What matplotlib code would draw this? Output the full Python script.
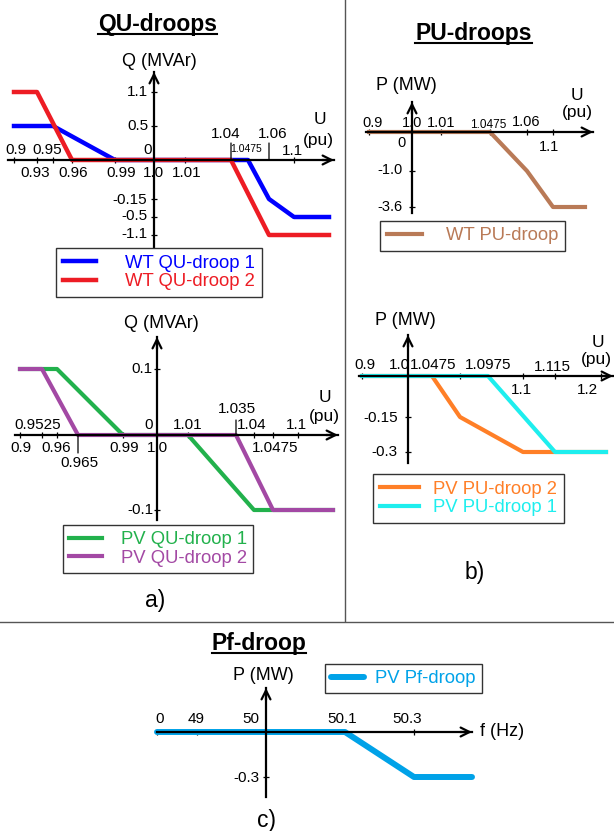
import numpy as np
import matplotlib
matplotlib.use("Agg")
import matplotlib.pyplot as plt
from matplotlib.lines import Line2D

plt.rcParams["font.family"] = ["Liberation Sans", "DejaVu Sans"]

# ---- data (droop curves) ----
wt_qu1_u = [0.9, 0.95, 0.99, 1.0475, 1.06, 1.1, 1.15]
wt_qu1_q = [0.5, 0.5, 0.0, 0.0, -0.15, -0.5, -0.5]
wt_qu2_u = [0.9, 0.93, 0.96, 1.04, 1.06, 1.15]
wt_qu2_q = [1.1, 1.1, 0.0, 0.0, -1.1, -1.1]

pv_qu1_u = [0.9, 0.96, 0.99, 1.01, 1.04, 1.15]
pv_qu1_q = [0.1, 0.1, 0.0, 0.0, -0.1, -0.1]
pv_qu2_u = [0.9, 0.9525, 0.965, 1.035, 1.0475, 1.15]
pv_qu2_q = [0.1, 0.1, 0.0, 0.0, -0.1, -0.1]

wt_pu_u = [0.9, 1.0475, 1.06, 1.1, 1.15]
wt_pu_p = [0.0, 0.0, -1.0, -3.6, -3.6]

pv_pu2_u = [0.9, 1.0475, 1.0725, 1.1, 1.25]
pv_pu2_p = [0.0, 0.0, -0.15, -0.3, -0.3]
pv_pu1_u = [0.9, 1.0975, 1.115, 1.25]
pv_pu1_p = [0.0, 0.0, -0.3, -0.3]

pf_f = [0, 50.1, 50.3, 50.5]
pf_p = [0.0, 0.0, -0.3, -0.3]

# ---- schematic axis scales: (value, pixel) break points ----
W, H = 614, 831
p1_x = [(0.89, 8), (0.9, 14), (0.93, 37), (0.95, 53), (0.96, 72), (0.99, 115), (1.0, 154),
        (1.01, 185), (1.04, 231), (1.0475, 248), (1.06, 269), (1.1, 294), (1.15, 329), (1.16, 334)]
p1_y = [(1.4, 72), (1.1, 92), (0.5, 126), (0, 160), (-0.15, 199), (-0.5, 217), (-1.1, 235), (-1.3, 247)]
p2_x = [(0.89, 15), (0.9, 20), (0.9525, 42), (0.96, 57), (0.965, 78), (0.99, 123), (1.0, 157),
        (1.01, 188), (1.035, 236), (1.04, 254), (1.0475, 273), (1.1, 298), (1.15, 333), (1.16, 338)]
p2_y = [(0.15, 337), (0.1, 369), (0, 435), (-0.1, 510), (-0.115, 520)]
p3_x = [(0.89, 366), (0.9, 369), (1.0, 412), (1.01, 441), (1.0475, 490), (1.06, 527), (1.1, 553),
        (1.15, 585), (1.16, 593)]
p3_y = [(0.8, 102), (0, 132), (-1.0, 171), (-3.6, 207), (-4.0, 213)]
p4_x = [(0.89, 359), (0.9, 362), (1.0, 408), (1.0475, 432), (1.0975, 488), (1.1, 523), (1.115, 555),
        (1.2, 601), (1.25, 606), (1.27, 613)]
p4_y = [(0.15, 335), (0, 376), (-0.15, 417), (-0.3, 452), (-0.33, 463)]
p5_x = [(0, 157), (49, 197), (50, 266), (50.1, 345), (50.3, 414), (50.5, 472)]
p5_y = [(0.3, 688), (0, 732), (-0.3, 777), (-0.44, 797)]

fig = plt.figure(figsize=(W / 100, H / 100), dpi=100)


def ftext(x, y, s, **kw):
    return fig.text(x / W, 1 - y / H, s, **kw)


def panel(xmap, ymap, origin):
    xv = np.array([v for v, p in xmap], float)
    xp = np.array([p for v, p in xmap], float)
    yv = np.array([v for v, p in ymap][::-1], float)
    yp = -np.array([p for v, p in ymap][::-1], float)
    ax = fig.add_axes([xp[0] / W, 1 + yp[0] / H, (xp[-1] - xp[0]) / W, (yp[-1] - yp[0]) / H])
    ax.set_xscale("function", functions=(lambda v: np.interp(v, xv, xp), lambda p: np.interp(p, xp, xv)))
    ax.set_yscale("function", functions=(lambda v: np.interp(v, yv, yp), lambda p: np.interp(p, yp, yv)))
    ax.set_xlim(xv[0], xv[-1])
    ax.set_ylim(yv[0], yv[-1])
    ax.set_autoscale_on(False)
    ax.patch.set_visible(False)
    ax.spines[["top", "right"]].set_visible(False)
    ax.spines["bottom"].set_position(("data", 0))
    ax.spines["left"].set_position(("data", origin))
    ax.spines[["bottom", "left"]].set_linewidth(1.6)
    ax.tick_params(which="both", direction="inout", length=5, width=0.9,
                   labelbottom=False, labelleft=False)
    ap = dict(arrowstyle="->", lw=1.6, color="black", shrinkA=0, shrinkB=0, mutation_scale=16)
    ax.annotate("", xy=(1, 0), xycoords=ax.get_yaxis_transform(),
                xytext=(-12, 0), textcoords="offset pixels", arrowprops=ap)
    ax.annotate("", xy=(origin, 1), xycoords=ax.get_xaxis_transform(),
                xytext=(0, -12), textcoords="offset pixels", arrowprops=ap)
    return ax


def labels(ax, items, origin, axis, fs):
    for s, v, dx, dy in items:
        if axis == "x":
            ax.annotate(s, xy=(v, 0), xytext=(dx, dy), textcoords="offset pixels",
                        ha="center", va="center", fontsize=fs)
        else:
            ax.annotate(s, xy=(origin, v), xytext=(dx, dy), textcoords="offset pixels",
                        ha="right", va="center", fontsize=fs)


def long_tick(ax, v, length):
    ax.annotate("", xy=(v, 0), xytext=(0, length), textcoords="offset pixels",
                arrowprops=dict(arrowstyle="-", lw=0.9, color="black", shrinkA=0, shrinkB=0))


def legend(ax, handles, cx, cy, hl, tp, fs=13.3):
    lg = ax.legend(handles=handles, loc="center", bbox_to_anchor=(cx / W, 1 - cy / H),
                   bbox_transform=fig.transFigure, fontsize=fs, labelcolor="linecolor",
                   fancybox=False, framealpha=1, edgecolor="#333333", handlelength=hl,
                   handletextpad=tp, borderpad=0.35, labelspacing=0.1)
    lg.get_frame().set_linewidth(1.0)


# ---- a) WT QU-droops ----
ax1 = panel(p1_x, p1_y, 1.0)
l1, = ax1.plot(wt_qu1_u, wt_qu1_q, color="#0000FF", lw=3.2, clip_on=False, label="WT QU-droop 1")
l2, = ax1.plot(wt_qu2_u, wt_qu2_q, color="#ED1C24", lw=3.2, clip_on=False, label="WT QU-droop 2")
ax1.set_xticks([0.9, 0.93, 0.95, 0.96, 0.99, 1.01, 1.1])
ax1.set_yticks([1.1, 0.5, -0.15, -0.5, -1.1])
labels(ax1, [("0.9", 0.9, 2, 10), ("0.95", 0.95, -6, 10), ("0.93", 0.93, -2, -13),
             ("0.96", 0.96, 1, -13), ("0.99", 0.99, 6, -13), ("1.0", 1.0, -1, -13),
             ("1.01", 1.01, 2, -13), ("1.04", 1.04, -5, 26), ("1.06", 1.06, 4, 26),
             ("1.1", 1.1, -2, 9)], 1.0, "x", 11)
labels(ax1, [("1.0475", 1.0475, -2, 11)], 1.0, "x", 7.5)
labels(ax1, [("1.1", 1.1, -6, 0), ("0.5", 0.5, -6, 0), ("0", 0, -2, 10), ("-0.15", -0.15, -7, -1),
             ("-0.5", -0.5, -7, 1), ("-1.1", -1.1, -7, 1)], 1.0, "y", 11)
long_tick(ax1, 1.04, 17)
long_tick(ax1, 1.06, 17)
ftext(159, 61, "Q (MVAr)", ha="center", va="center", fontsize=13)
ftext(320, 120, "U", ha="center", va="center", fontsize=12.5)
ftext(318, 140, "(pu)", ha="center", va="center", fontsize=12.5)
legend(ax1, [l1, l2], 159, 272.5, 1.8, 1.6)

# ---- a) PV QU-droops ----
ax2 = panel(p2_x, p2_y, 1.0)
g1, = ax2.plot(pv_qu1_u, pv_qu1_q, color="#22B14C", lw=3, clip_on=False, label="PV QU-droop 1")
g2, = ax2.plot(pv_qu2_u, pv_qu2_q, color="#A349A4", lw=3, clip_on=False, label="PV QU-droop 2")
ax2.set_xticks([0.9, 0.9525, 0.96, 0.99, 1.01, 1.04, 1.0475, 1.1])
ax2.set_yticks([0.1, -0.1])
labels(ax2, [("0.9", 0.9, 1, -13), ("0.96", 0.96, -1, -13), ("0.965", 0.965, 1, -28),
             ("0.99", 0.99, 1, -13), ("1.0", 1.0, 0, -13), ("1.0475", 1.0475, 2, -13),
             ("0.9525", 0.9525, -4, 10), ("1.01", 1.01, 0, 10), ("1.035", 1.035, 1, 26),
             ("1.04", 1.04, -2, 10), ("1.1", 1.1, -2, 10)], 1.0, "x", 11)
labels(ax2, [("0.1", 0.1, -5, 0), ("0", 0, -4, 10), ("-0.1", -0.1, -4, 0)], 1.0, "y", 11)
long_tick(ax2, 0.965, -18)
long_tick(ax2, 1.035, 15)
ftext(161, 323, "Q (MVAr)", ha="center", va="center", fontsize=13)
ftext(325, 397, "U", ha="center", va="center", fontsize=12.5)
ftext(324, 416, "(pu)", ha="center", va="center", fontsize=12.5)
legend(ax2, [g1, g2], 158, 549, 1.8, 1.0)

# ---- b) WT PU-droop ----
ax3 = panel(p3_x, p3_y, 1.0)
b1, = ax3.plot(wt_pu_u, wt_pu_p, color="#B97A57", lw=3, clip_on=False, label="WT PU-droop")
ax3.set_xticks([0.9, 1.01, 1.0475, 1.06, 1.1])
ax3.set_yticks([-1.0, -3.6])
labels(ax3, [("0.9", 0.9, 4, 9), ("1.0", 1.0, 0, 9), ("1.01", 1.01, 0, 9),
             ("1.06", 1.06, -1, 10), ("1.1", 1.1, -4, -15)], 1.0, "x", 10.5)
labels(ax3, [("1.0475", 1.0475, -2, 7)], 1.0, "x", 8.5)
labels(ax3, [("0", 0, -6, -11), ("-1.0", -1.0, -9, 1), ("-3.6", -3.6, -9, 0)], 1.0, "y", 10.5)
ftext(406, 85, "P (MW)", ha="center", va="center", fontsize=13)
ftext(577, 95, "U", ha="center", va="center", fontsize=12.5)
ftext(577, 112, "(pu)", ha="center", va="center", fontsize=12.5)
legend(ax3, [b1], 472.5, 236, 1.9, 1.3)

# ---- b) PV PU-droops ----
ax4 = panel(p4_x, p4_y, 1.0)
o2, = ax4.plot(pv_pu2_u, pv_pu2_p, color="#FF7F27", lw=3, clip_on=False, label="PV PU-droop 2")
c1, = ax4.plot(pv_pu1_u, pv_pu1_p, color="#1EEEEE", lw=3, clip_on=False, label="PV PU-droop 1")
ax4.set_xticks([0.9, 1.0725, 1.1, 1.115, 1.2])
ax4.set_yticks([-0.15, -0.3])
labels(ax4, [("0.9", 0.9, 3, 11), ("1.0", 1.0, -9, 11), ("1.0475", 1.0475, 1, 11),
             ("1.0975", 1.0975, 0, 11), ("1.115", 1.115, -3, 9), ("1.1", 1.1, -2, -14),
             ("1.2", 1.2, -14, -14)], 1.0, "x", 11)
labels(ax4, [("-0.15", -0.15, -10, -1), ("-0.3", -0.3, -10, 0)], 1.0, "y", 11)
ftext(405, 320, "P (MW)", ha="center", va="center", fontsize=13)
ftext(598, 342, "U", ha="center", va="center", fontsize=12.5)
ftext(596, 360, "(pu)", ha="center", va="center", fontsize=12.5)
legend(ax4, [o2, c1], 468.5, 498.5, 2.1, 0.8)

# ---- c) Pf-droop ----
ax5 = panel(p5_x, p5_y, 50)
f1, = ax5.plot(pf_f, pf_p, color="#00A2E8", lw=4.3, clip_on=False, label="PV Pf-droop",
               solid_capstyle="round")
ax5.set_xticks([0, 49, 50.3])
ax5.set_yticks([-0.3])
labels(ax5, [("0", 0, 3, 13), ("49", 49, -1, 13), ("50", 50, -15, 13), ("50.1", 50.1, -3, 13),
             ("50.3", 50.3, -7, 13)], 50, "x", 11)
labels(ax5, [("-0.3", -0.3, -6, -1)], 50, "y", 11)
ftext(263, 675, "P (MW)", ha="center", va="center", fontsize=13)
ftext(480, 732, "f (Hz)", ha="left", va="center", fontsize=13)
legend(ax5, [f1], 403.5, 678.5, 1.8, 0.6)

# ---- titles, captions, separators ----
titles = [(157.5, 31, "QU-droops"), (473.5, 40, "PU-droops"), (259, 650, "Pf-droop")]
title_txt = [ftext(x, y, s, ha="center", va="baseline", fontsize=16.5, fontweight="bold")
             for x, y, s in titles]
ftext(155, 600, "a)", ha="center", va="center", fontsize=16.5)
ftext(475, 573, "b)", ha="center", va="center", fontsize=16.5)
ftext(267, 820, "c)", ha="center", va="center", fontsize=16.5)

fig.add_artist(Line2D([345 / W, 345 / W], [1, 1 - 621 / H], color="#555555", lw=1))
fig.add_artist(Line2D([0, 1], [1 - 622 / H, 1 - 622 / H], color="#555555", lw=1))

fig.canvas.draw()
for (x, y, s), t in zip(titles, title_txt):
    bb = t.get_window_extent()
    fig.add_artist(Line2D([bb.x0 / W, bb.x1 / W], [1 - (y + 2.5) / H] * 2, color="black", lw=1.5))

fig.savefig("out.png", dpi=100)
